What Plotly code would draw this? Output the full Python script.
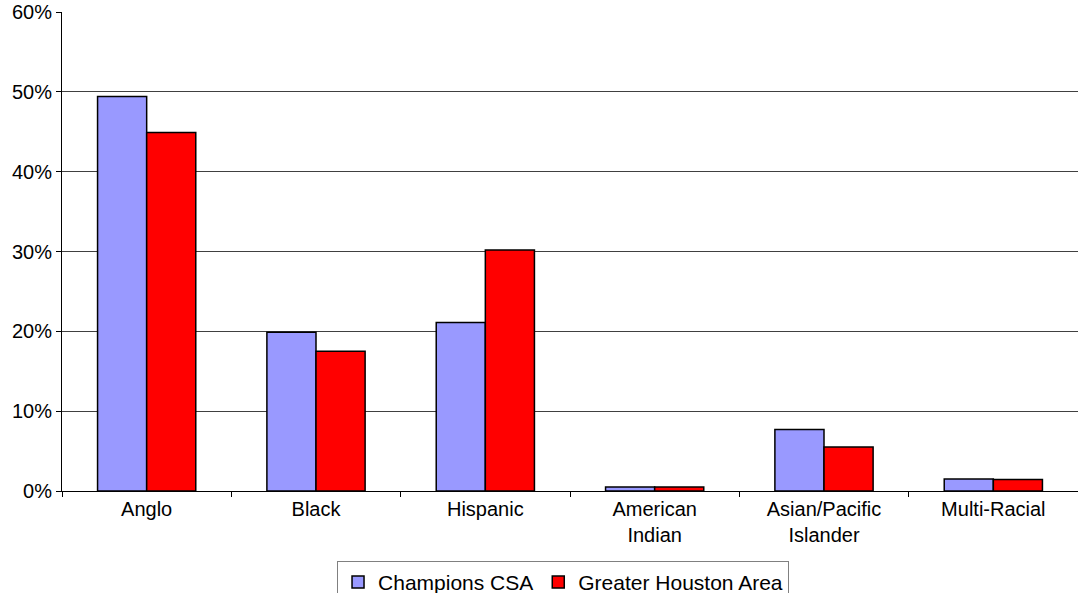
import plotly.graph_objects as go

categories = ["Anglo", "Black", "Hispanic", "American<br>Indian", "Asian/Pacific<br>Islander", "Multi-Racial"]
champions_csa = [49.4, 19.9, 21.1, 0.5, 7.7, 1.5]
greater_houston = [44.9, 17.5, 30.2, 0.5, 5.5, 1.45]
y_ticks = [0, 10, 20, 30, 40, 50, 60]
y_tick_labels = [f"{v}%" for v in y_ticks]

fig = go.Figure()
fig.add_trace(go.Bar(
    x=categories, y=champions_csa, name="Champions CSA",
    marker=dict(color="#9999FF", line=dict(color="#000000", width=1.5)),
))
fig.add_trace(go.Bar(
    x=categories, y=greater_houston, name="Greater Houston Area",
    marker=dict(color="#FF0000", line=dict(color="#000000", width=1.5)),
))

font = dict(family="Liberation Sans, Arial, sans-serif", size=20, color="#000000")
legend_font = dict(family="Liberation Sans, Arial, sans-serif", size=21, color="#000000")

fig.update_layout(
    width=1078, height=593,
    margin=dict(l=62, r=0, t=12, b=102, autoexpand=False),
    paper_bgcolor="#FFFFFF", plot_bgcolor="#FFFFFF",
    barmode="group", bargap=0.42, bargroupgap=0,
    font=font,
    showlegend=True,
    legend=dict(
        orientation="h", x=0.2707, xanchor="left", y=-0.146, yanchor="top",
        bordercolor="#808080", borderwidth=1, font=legend_font,
        itemwidth=30, traceorder="normal",
    ),
    xaxis=dict(
        showline=True, linecolor="#000000", linewidth=1,
        ticks="outside", ticklen=5, tickcolor="#000000",
        tickson="boundaries", showgrid=False, tickfont=font,
        automargin=False,
    ),
    yaxis=dict(
        range=[0, 60], tickvals=y_ticks, ticktext=y_tick_labels,
        showline=True, linecolor="#000000", linewidth=1,
        ticks="outside", ticklen=5, tickcolor="#000000",
        showgrid=True, gridcolor="#404040", gridwidth=1,
        zeroline=False, tickfont=font, automargin=False,
    ),
)

fig.write_html(
    "out.html",
    config={"displayModeBar": False},
    post_script="document.body.style.margin='0';document.body.style.overflow='hidden';",
)
